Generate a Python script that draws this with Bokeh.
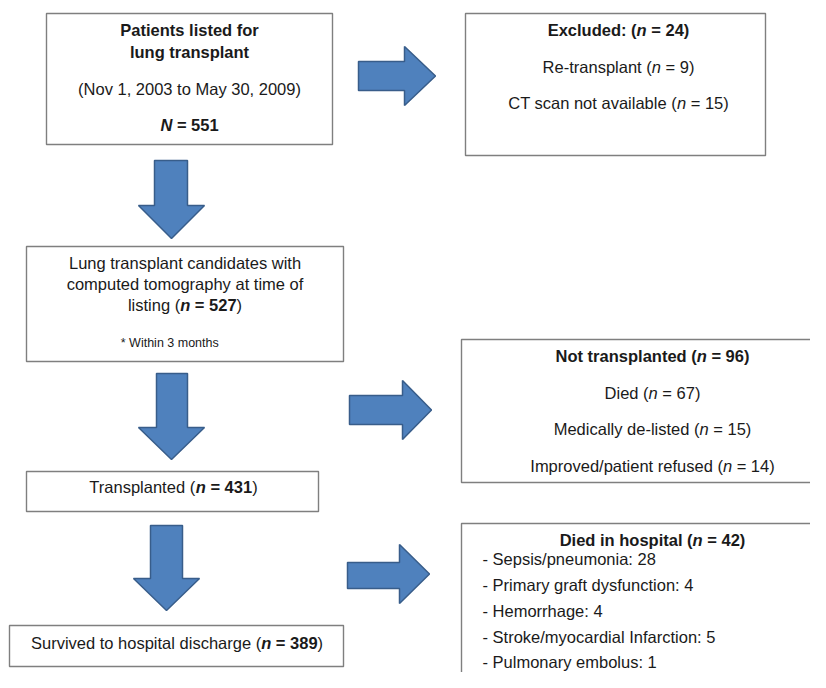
from bokeh.plotting import figure
from bokeh.models import Range1d, ColumnDataSource
from bokeh.core.properties import value
from bokeh.embed import file_html
from bokeh.resources import INLINE

# ---------------- data ----------------
listed_n = 551
listed_period = "(Nov 1, 2003 to May 30, 2009)"
excluded_labels = ["Re-transplant", "CT scan not available"]
excluded_counts = [9, 15]
candidates_n = 527
not_tx_labels = ["Died", "Medically de-listed", "Improved/patient refused"]
not_tx_counts = [67, 15, 14]
transplanted_n = 431
survived_n = 389
died_hosp_n = 42
cause_labels = ["Sepsis/pneumonia", "Primary graft dysfunction", "Hemorrhage",
                "Stroke/myocardial Infarction", "Pulmonary embolus"]
cause_counts = [28, 4, 4, 5, 1]

# ---------------- style ----------------
FONT = "Liberation Sans"
TXT = "#1a1a1a"
ARROW_FILL = "#4f81bd"
ARROW_LINE = "#385d8a"
BOX_LINE = "#7f7f7f"
FS = 16.5

# Arial / Helvetica advance widths (1/1000 em)
REG = {' ': 278, '(': 333, ')': 333, '*': 389, ',': 278, '-': 333, '.': 278, '/': 278,
       ':': 278, '=': 584,
       'A': 667, 'B': 667, 'C': 722, 'D': 722, 'E': 667, 'F': 611, 'G': 778, 'H': 722,
       'I': 278, 'J': 500, 'K': 667, 'L': 556, 'M': 833, 'N': 722, 'O': 778, 'P': 667,
       'Q': 778, 'R': 722, 'S': 667, 'T': 611, 'U': 722, 'V': 667, 'W': 944, 'X': 667,
       'Y': 667, 'Z': 611,
       'a': 556, 'b': 556, 'c': 500, 'd': 556, 'e': 556, 'f': 278, 'g': 556, 'h': 556,
       'i': 222, 'j': 222, 'k': 500, 'l': 222, 'm': 833, 'n': 556, 'o': 556, 'p': 556,
       'q': 556, 'r': 333, 's': 500, 't': 278, 'u': 556, 'v': 500, 'w': 722, 'x': 500,
       'y': 500, 'z': 500}
BOLD = dict(REG)
BOLD.update({':': 333, 'A': 722, 'B': 722, 'K': 722, 'L': 611, 'R': 722, 'V': 667,
             'b': 611, 'c': 556, 'd': 611, 'f': 333, 'g': 611, 'h': 611, 'i': 278,
             'j': 278, 'k': 556, 'l': 278, 'm': 889, 'n': 611, 'o': 611, 'p': 611,
             'q': 611, 'r': 389, 's': 556, 't': 333, 'u': 611, 'v': 556, 'w': 778,
             'x': 556, 'y': 556})


def text_width(s, style, size):
    tbl = BOLD if "bold" in style else REG
    return sum(tbl.get(ch, 556) for ch in s) * size / 1000.0


segments = {"normal": [], "bold": [], "italic": [], "bold italic": []}


def add_line(x, y, parts, size=FS, align="center"):
    total = sum(text_width(t, st, size) for t, st in parts)
    cur = x - total / 2.0 if align == "center" else x
    for t, st in parts:
        lead = len(t) - len(t.lstrip(" "))
        core = t.strip(" ")
        cur += text_width(" " * lead, st, size)
        if core:
            segments[st].append((cur, y, core, size))
        cur += text_width(t.lstrip(" "), st, size)


# ---------------- figure ----------------
W, H = 810, 672
p = figure(width=W, height=H, output_backend="svg", toolbar_location=None,
           x_range=Range1d(0, W), y_range=Range1d(H, 0),
           min_border=0)
p.axis.visible = False
p.grid.visible = False
p.outline_line_color = None
p.background_fill_color = "white"
p.border_fill_color = "white"

# boxes (left, right, top, bottom)
boxes = [
    (46, 332, 13, 144),
    (465, 765, 13, 155),
    (26, 343, 246, 361),
    (461, 840, 339, 482),
    (26, 318, 471, 511),
    (9, 343, 625, 666),
    (461, 840, 523, 700),
]
p.quad(left=[b[0] for b in boxes], right=[b[1] for b in boxes],
       top=[b[2] for b in boxes], bottom=[b[3] for b in boxes],
       fill_color="white", line_color=BOX_LINE, line_width=1.4)


def arrow_right(x0, xh, xt, s0, s1, h0, h1):
    ym = (h0 + h1) / 2.0
    return ([x0, xh, xh, xt, xh, xh, x0], [s0, s0, h0, ym, h1, s1, s1])


def arrow_down(s0, s1, top, hy, h0, h1, tip):
    xm = (h0 + h1) / 2.0
    return ([s0, s1, s1, h1, xm, h0, s0], [top, top, hy, hy, tip, hy, hy])


arrows = [
    arrow_right(358, 404, 435, 61, 90, 46, 105),
    arrow_down(154, 187, 160, 205, 138, 204, 238),
    arrow_down(156, 187, 373, 427, 138, 204, 459),
    arrow_right(349, 402, 431, 395, 424, 380, 439),
    arrow_down(150, 182, 525, 578, 133, 199, 610),
    arrow_right(347, 399, 429, 562, 588, 544, 603),
]
p.patches(xs=[a[0] for a in arrows], ys=[a[1] for a in arrows],
          fill_color=ARROW_FILL, line_color=ARROW_LINE, line_width=1.5)

# ---------------- texts ----------------
# Box 1
add_line(189, 29, [("Patients listed for", "bold")])
add_line(189, 51, [("lung transplant", "bold")])
add_line(189, 88, [(listed_period, "normal")])
add_line(189, 124, [("N", "bold italic"), (f" = {listed_n}", "bold")])

# Excluded
add_line(618, 29, [("Excluded: (", "bold"), ("n", "bold italic"),
                   (f" = {sum(excluded_counts)})", "bold")])
for (lab, c), yy in zip(zip(excluded_labels, excluded_counts), [66, 102]):
    add_line(618, yy, [(f"{lab} (", "normal"), ("n", "italic"), (f" = {c})", "normal")])

# Candidates
add_line(184.5, 262, [("Lung transplant candidates with", "normal")])
add_line(184.5, 283, [("computed tomography at time of", "normal")])
add_line(184.5, 304, [("listing (", "normal"), ("n", "bold italic"),
                      (f" = {candidates_n}", "bold"), (")", "normal")])
add_line(171, 342, [("*  Within 3 months", "normal")], size=12.5)

# Not transplanted
add_line(652, 355, [("Not transplanted (", "bold"), ("n", "bold italic"),
                    (f" = {sum(not_tx_counts)})", "bold")])
for (lab, c), yy in zip(zip(not_tx_labels, not_tx_counts), [392, 428, 465]):
    add_line(652, yy, [(f"{lab} (", "normal"), ("n", "italic"), (f" = {c})", "normal")])

# Transplanted
add_line(173, 486, [("Transplanted (", "normal"), ("n", "bold italic"),
                    (f" = {transplanted_n}", "bold"), (")", "normal")])

# Survived
add_line(176.5, 642, [("Survived to hospital discharge (", "normal"), ("n", "bold italic"),
                      (f" = {survived_n}", "bold"), (")", "normal")])

# Died in hospital
add_line(652, 539, [("Died in hospital (", "bold"), ("n", "bold italic"),
                    (f" = {died_hosp_n})", "bold")])
for (lab, c), yy in zip(zip(cause_labels, cause_counts), [558, 584, 610, 636, 661]):
    add_line(482, yy, [(f"- {lab}: {c}", "normal")], align="left")

for st, rows in segments.items():
    if not rows:
        continue
    src = ColumnDataSource(dict(x=[r[0] for r in rows], y=[r[1] for r in rows],
                                text=[r[2] for r in rows],
                                size=[f"{r[3]}px" for r in rows]))
    p.text(x="x", y="y", text="text", source=src, text_font=value(FONT),
           text_font_size="size", text_font_style=st, text_align="left",
           text_baseline="middle", text_color=TXT)

open("out.html", "w").write(file_html(p, INLINE))
